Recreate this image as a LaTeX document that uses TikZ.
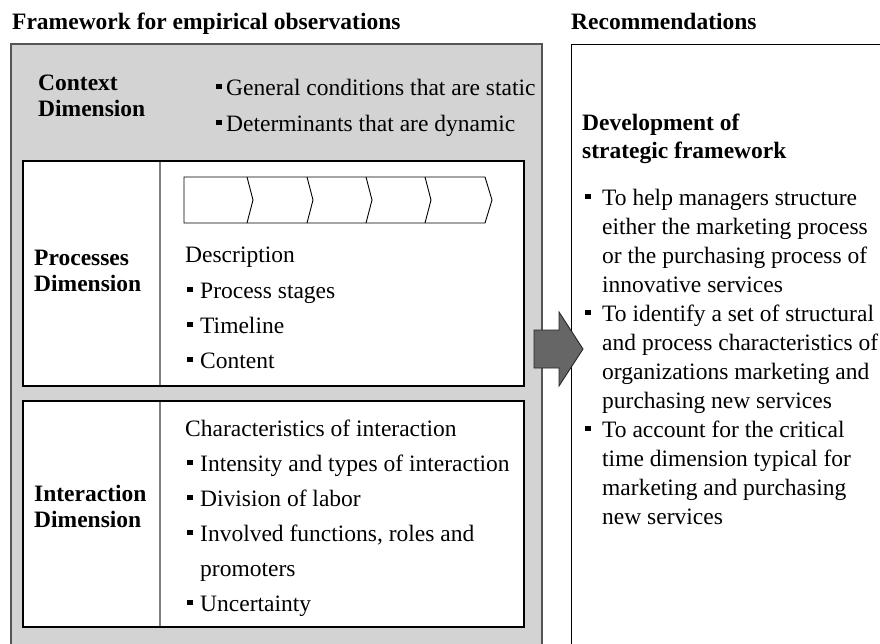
\documentclass[tikz,border=0pt]{standalone}
\usepackage{fontspec}
\setmainfont{Liberation Serif}
\definecolor{boxgray}{RGB}{211,211,211}
\definecolor{edgegray}{RGB}{85,85,85}
\definecolor{arrowgray}{RGB}{102,102,102}
\definecolor{divgray}{RGB}{128,128,128}
\newcommand\bsq{\raisebox{6pt}{\rule{5.5pt}{5.5pt}}}
\begin{document}
\begin{tikzpicture}[x=1pt,y=-1pt,
  txt/.style={anchor=base west, inner sep=0pt, font=\fontsize{23.5}{28}\selectfont},
  lbl/.style={anchor=base west, inner sep=0pt, font=\fontsize{23.5}{28}\selectfont\bfseries},
  outerbox/.style={draw=edgegray, fill=boxgray, line width=1.2pt},
  innerbox/.style={draw=black, line width=1.3pt},
  divider/.style={draw=divgray, line width=1.5pt},
  chev/.style={draw=black, line width=0.9pt},
  bigarrow/.style={fill=arrowgray, draw=black!85, line width=0.9pt, line join=miter}]
\useasboundingbox (0,0) rectangle (880,643);
\clip (0,0) rectangle (880,643);
% outer boxes
\draw[outerbox] (11,44) rectangle (542,700);
\draw[draw=black, fill=white, line width=1pt] (571,44) rectangle (900,700);
% processes box
\fill[white] (23,161) rectangle (524,386);
\draw[divider] (160,161) -- (160,386);
\draw[innerbox] (23,161) rectangle (524,386);
% interaction box
\fill[white] (23,401) rectangle (524,627);
\draw[divider] (160,401) -- (160,627);
\draw[innerbox] (23,401) rectangle (524,627);
% chevrons
\draw[chev] (184,177) -- (485,177) -- (492,200) -- (485,223) -- (184,223) -- cycle;
\foreach \cx in {247,307,366,425} \draw[chev] (\cx,177) -- (\cx+6,200) -- (\cx,223);
% arrow
\draw[bigarrow] (534,330) -- (559,330) -- (559,312) -- (583,349) -- (559,386) -- (559,368) -- (534,368) -- cycle;
% headings
\node[lbl] (h1) at (12,29) {Framework for empirical observations};
\node[lbl] (h2) at (571,29) {Recommendations};
% context
\node[lbl] (c1) at (38,90) {Context};
\node[lbl] (c2) at (38,116) {Dimension};
\node[txt] (c3) at (216,95) {\bsq\hspace{4.5pt}General conditions that are static};
\node[txt] (c4) at (216,131) {\bsq\hspace{4.5pt}Determinants that are dynamic};
% processes
\node[lbl] (p1) at (34,265) {Processes};
\node[lbl] (p2) at (34,291) {Dimension};
\node[txt] (p3) at (185,262) {Description};
\node[txt] (p4) at (187,298) {\bsq\hspace{7.5pt}Process stages};
\node[txt] (p5) at (187,333) {\bsq\hspace{7.5pt}Timeline};
\node[txt] (p6) at (187,368) {\bsq\hspace{7.5pt}Content};
% interaction
\node[lbl] (i1) at (34,501) {Interaction};
\node[lbl] (i2) at (34,527) {Dimension};
\node[txt] (i3) at (185,436) {Characteristics of interaction};
\node[txt] (i4) at (187,471) {\bsq\hspace{7.5pt}Intensity and types of interaction};
\node[txt] (i5) at (187,506) {\bsq\hspace{7.5pt}Division of labor};
\node[txt] (i6) at (187,541) {\bsq\hspace{7.5pt}Involved functions, roles and};
\node[txt] (i7) at (200,576) {promoters};
\node[txt] (i8) at (187,611) {\bsq\hspace{7.5pt}Uncertainty};
% recommendations
\node[lbl] (r1) at (582,130) {Development of};
\node[lbl] (r2) at (582,158) {strategic framework};
\node[txt] (r3) at (585,205) {\bsq\hspace{11.5pt}To help managers structure};
\node[txt] (r4) at (602,234) {either the marketing process};
\node[txt] (r5) at (602,263) {or the purchasing process of};
\node[txt] (r6) at (602,292) {innovative services};
\node[txt] (r7) at (585,321) {\bsq\hspace{11.5pt}To identify a set of structural};
\node[txt] (r8) at (602,350) {and process characteristics of};
\node[txt] (r9) at (602,379) {organizations marketing and};
\node[txt] (r10) at (602,408) {purchasing new services};
\node[txt] (r11) at (585,437) {\bsq\hspace{11.5pt}To account for the critical};
\node[txt] (r12) at (602,466) {time dimension typical for};
\node[txt] (r13) at (602,495) {marketing and purchasing};
\node[txt] (r14) at (602,524) {new services};
\end{tikzpicture}
\end{document}
